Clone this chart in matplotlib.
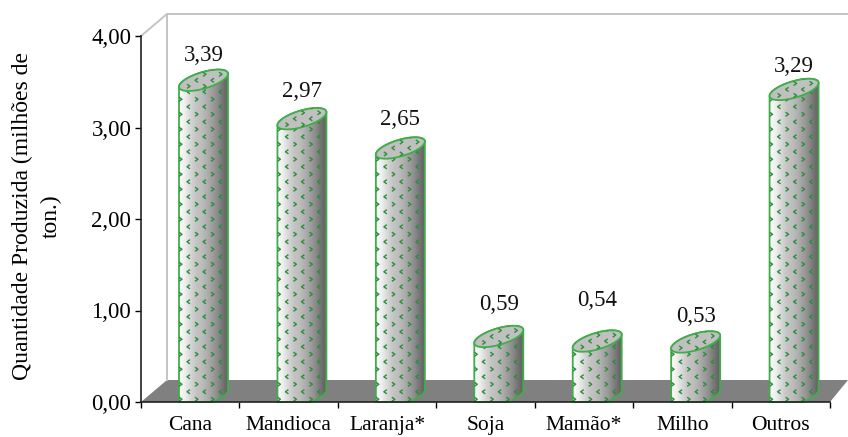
import numpy as np
import matplotlib
matplotlib.use('Agg')
import matplotlib.pyplot as plt
from matplotlib.path import Path
from matplotlib.patches import Polygon

plt.rcParams['font.family'] = ['Liberation Serif', 'DejaVu Serif']

categorias = ['Cana', 'Mandioca', 'Laranja*', 'Soja', 'Mamão*', 'Milho', 'Outros']
valores = [3.39, 2.97, 2.65, 0.59, 0.54, 0.53, 3.29]
rotulos = ['3,39', '2,97', '2,65', '0,59', '0,54', '0,53', '3,29']
ticks_y = [0, 1, 2, 3, 4]
ticks_y_txt = ['0,00', '1,00', '2,00', '3,00', '4,00']

# distancia de cada rotulo ate o valor, em pixels
dist_rotulo = [36, 39, 40, 44, 52, 37, 34]

VERDE = '#3fae49'
VERDE_ESC = '#2a8f38'
PX_X = 689 / 7.0   # pixels por categoria
PX_Y = 366 / 4.0   # pixels por unidade


def px(dx=0, dy=0):
    # deslocamento em pixels para unidades do eixo
    return dx / PX_X, dy / PX_Y


fig = plt.figure(figsize=(8.48, 4.37), dpi=100)
ax = fig.add_axes([141 / 848, 35 / 437, 689 / 848, 366 / 437])
ax.set_xlim(0, 7)
ax.set_ylim(0, 4)
ax.patch.set_visible(False)

# parede do fundo e piso
fx, fy = px(26, 22)
tx, _ = px(18)
ax.add_patch(Polygon([(0, 0), (fx, fy), (7 + tx, fy), (7, 0)], closed=True,
                     fc='#808080', ec='none', clip_on=False, zorder=1))
topo = fy + 4
ax.plot([0, fx, fx], [4, topo, fy], color='#c4c4c4', lw=1.4, clip_on=False, zorder=1)
ax.plot([fx, 7 + tx], [topo, topo], color='#c4c4c4', lw=1.4, clip_on=False, zorder=1)

# degrade do cilindro, em faixas
tons = np.array([[0.97, 0.93, 0.86, 0.80, 0.76, 0.74, 0.70, 0.65, 0.60, 0.54, 0.47, 0.40]])
chevron_d = Path([(-0.5, 0.7), (0.5, 0), (-0.5, -0.7)])
chevron_e = Path([(0.5, 0.7), (-0.5, 0), (0.5, -0.7)])

t = np.linspace(0, 2 * np.pi, 81)
ux, uy = px(24.5, 6.5)
_, vy = px(0, 8.5)
for i, v in enumerate(valores):
    cx = i + 38 / PX_X + ux
    base = 0.06
    meio = v + 0.055 + uy

    # contorno: elipse do topo por cima e fundo cortado no eixo
    t_cima = np.linspace(np.pi, 0, 40)
    t_baixo = np.linspace(0, -np.pi, 40)
    xs = np.r_[cx + ux * np.cos(t_cima), cx + ux * np.cos(t_baixo)]
    ys = np.r_[meio + uy * np.cos(t_cima) + vy * np.sin(t_cima),
               np.maximum(base + uy * np.cos(t_baixo) + vy * np.sin(t_baixo), 0)]
    corpo = Polygon(np.c_[xs, ys], closed=True, fc='none', ec=VERDE, lw=1.3,
                    zorder=4, clip_on=False)
    ax.add_patch(corpo)
    im = ax.imshow(tons, cmap='gray', vmin=0, vmax=1, aspect='auto', zorder=3,
                   extent=(cx - ux, cx + ux, 0, meio + uy + vy),
                   interpolation='bilinear')
    im.set_clip_path(corpo)

    # elipse do topo
    tampa = Polygon(np.c_[cx + ux * np.cos(t), meio + uy * np.cos(t) + vy * np.sin(t)],
                    closed=True, fc='#c0c0c0', ec=VERDE, lw=1.3, zorder=5)
    ax.add_patch(tampa)

    # textura de setinhas verdes
    colunas = cx - ux + (np.arange(6) * 8 + 1.5) / PX_X
    for j, xc in enumerate(colunas):
        m1 = chevron_d if j % 2 == 0 else chevron_e
        m2 = chevron_e if j % 2 == 0 else chevron_d
        linhas = np.arange(0.03 + (j % 2) * 7.5 / PX_Y, meio + 0.15, 15 / PX_Y)
        col = ax.scatter(np.full(linhas.size, xc), linhas, s=9, marker=m1,
                         facecolors='none', edgecolors=VERDE_ESC, linewidths=1.0, zorder=4.5)
        col.set_clip_path(corpo)
        linhas_t = meio + np.arange(-2, 3) * 12 / PX_Y + (j % 2) * 6 / PX_Y
        col_t = ax.scatter(np.full(linhas_t.size, xc), linhas_t, s=9, marker=m2,
                           facecolors='none', edgecolors=VERDE_ESC, linewidths=1.0, zorder=5.5)
        col_t.set_clip_path(tampa)

    ax.annotate(rotulos[i], (cx, v), xytext=(0, dist_rotulo[i] * 0.72), textcoords='offset points',
                ha='center', va='center', fontsize=16.5, color='#111111', zorder=6)

ax.set_xticks(np.arange(8))
ax.set_xticklabels([])
ax.set_xticks(np.arange(7) + 0.5, categorias, minor=True, fontsize=15.5)
ax.tick_params(axis='x', which='minor', length=0, pad=10)
ax.tick_params(axis='x', which='major', length=4, width=1, direction='out')
ax.set_yticks(ticks_y, ticks_y_txt, fontsize=16.5)
ax.tick_params(axis='y', length=4, width=1, direction='out', pad=3)

for lado in ['top', 'right']:
    ax.spines[lado].set_visible(False)
for lado in ['left', 'bottom']:
    ax.spines[lado].set_linewidth(1.2)
    ax.spines[lado].set_color('#222222')
    ax.spines[lado].set_zorder(7)

ax.set_xlim(0, 7)
ax.set_ylim(0, 4)

fig.text(37 / 848, 1 - 216 / 437, 'Quantidade Produzida (milhões de\nton.)', rotation=90,
         ha='center', va='center', ma='center', fontsize=17, linespacing=1.5)

fig.savefig('out.png', dpi=100)
